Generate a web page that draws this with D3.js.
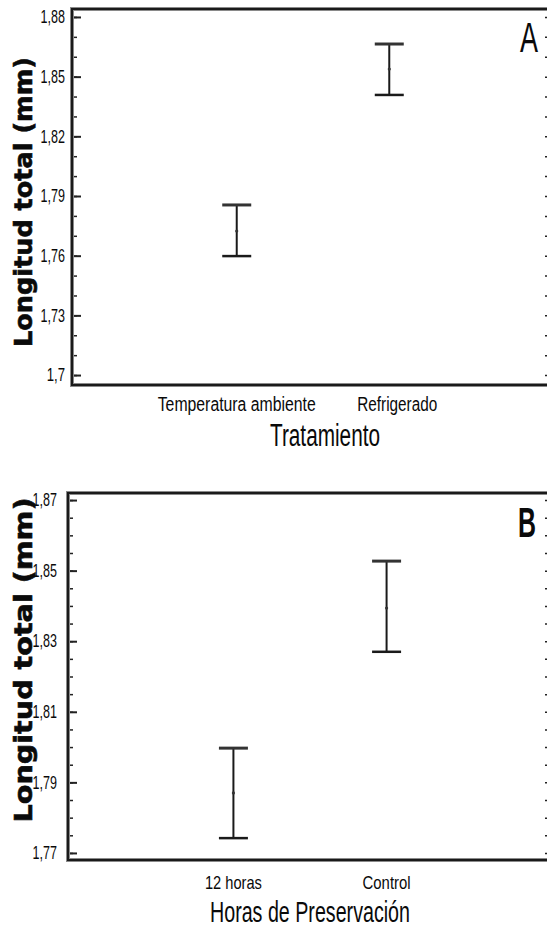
<!DOCTYPE html>
<html>
<head>
<meta charset="utf-8">
<script src="https://cdn.jsdelivr.net/npm/d3@7"></script>
<style>
  body { margin: 0; background: #fff; }
  svg { display: block; }
  .narrow { font-family: "Liberation Sans Narrow", "Arial Narrow", "Liberation Sans", sans-serif; fill: #0a0a0a; }
  .ytitle { font-family: "DejaVu Sans", sans-serif; font-weight: bold; fill: #0a0a0a; stroke: #0a0a0a; stroke-width: 0.6; }
</style>
</head>
<body>
<div id="chart"></div>
<script>
// Panel A: Tratamiento
const groupsA = ["Temperatura ambiente", "Refrigerado"];
const meansA = [1.7724, 1.8538];
const lowerA = [1.7598, 1.8408];
const upperA = [1.7855, 1.8664];
const ticksA = [1.70, 1.73, 1.76, 1.79, 1.82, 1.85, 1.88];

// Panel B: Horas de Preservación
const groupsB = ["12 horas", "Control"];
const meansB = [1.787, 1.8394];
const lowerB = [1.7742, 1.827];
const upperB = [1.7997, 1.8527];
const ticksB = [1.77, 1.79, 1.81, 1.83, 1.85, 1.87];

const width = 547, height = 928;

const svg = d3.select("#chart")
    .append("svg")
    .attr("width", width)
    .attr("height", height);

const locale = d3.formatLocale({ decimal: ",", thousands: ".", grouping: [3], currency: ["", ""] });
const fmt = locale.format("~r");

const drawPanel = (p) => {
    const g = svg.append("g");

    const y = d3.scaleLinear().domain(p.yDomain).range([p.bottom, p.top]);
    const x = d3.scalePoint().domain(p.groups).range([p.left, p.right]).padding(1.08);
    const minorTicks = d3.range(p.ticks[0], p.yDomain[1], p.minor);

    // minor ticks (left, inward)
    g.append("g")
        .attr("transform", `translate(${p.left},0)`)
        .call(d3.axisLeft(y).tickValues(minorTicks).tickSizeInner(-5).tickSizeOuter(0).tickFormat(""))
        .call(a => a.select(".domain").remove())
        .selectAll("line").attr("stroke", "#222").attr("stroke-width", 1.5);

    // major ticks (left, inward) with labels
    g.append("g")
        .attr("transform", `translate(${p.left},0)`)
        .call(d3.axisLeft(y).tickValues(p.ticks).tickSizeInner(-9).tickSizeOuter(0).tickPadding(p.pad).tickFormat(fmt))
        .call(a => a.select(".domain").remove())
        .call(a => a.selectAll("line").attr("stroke", "#222").attr("stroke-width", 2))
        .call(a => a.selectAll("text")
            .attr("class", "narrow")
            .attr("font-size", 18)
            .attr("textLength", d => fmt(d).length * 6.1)
            .attr("lengthAdjust", "spacingAndGlyphs"));

    // right axis ticks (mostly cut off at the picture edge)
    g.append("g")
        .attr("transform", `translate(${p.frameRight},0)`)
        .call(d3.axisRight(y).tickValues(minorTicks).tickSizeInner(-7).tickSizeOuter(0).tickFormat(""))
        .call(a => a.select(".domain").remove())
        .selectAll("line").attr("stroke", "#222").attr("stroke-width", 1.5);

    // frame
    const framePath = `M${p.frameRight},${p.top}H${p.left}V${p.bottom}H${p.frameRight}`;
    g.append("path")
        .attr("d", framePath)
        .attr("fill", "none")
        .attr("stroke", "#8a8a8a")
        .attr("stroke-width", 4);
    g.append("path")
        .attr("d", framePath)
        .attr("fill", "none")
        .attr("stroke", "#1a1a1a")
        .attr("stroke-width", 2);

    // error bars
    const rows = p.groups.map((k, i) => ({ k, m: p.means[i], lo: p.lower[i], hi: p.upper[i] }));
    const bars = g.selectAll(".bar").data(rows).join("g").attr("class", "bar");
    bars.append("line")
        .attr("x1", d => x(d.k)).attr("x2", d => x(d.k))
        .attr("y1", d => y(d.hi)).attr("y2", d => y(d.lo))
        .attr("stroke", "#1a1a1a").attr("stroke-width", 2);
    bars.append("line")
        .attr("x1", d => x(d.k) - 14.5).attr("x2", d => x(d.k) + 14.5)
        .attr("y1", d => y(d.hi)).attr("y2", d => y(d.hi))
        .attr("stroke", "#333").attr("stroke-width", 3);
    bars.append("line")
        .attr("x1", d => x(d.k) - 14.5).attr("x2", d => x(d.k) + 14.5)
        .attr("y1", d => y(d.lo)).attr("y2", d => y(d.lo))
        .attr("stroke", "#1a1a1a").attr("stroke-width", 2.5);
    bars.append("circle")
        .attr("cx", d => x(d.k)).attr("cy", d => y(d.m))
        .attr("r", 1.6).attr("fill", "#333");

    // category labels
    g.selectAll(".cat").data(rows).join("text")
        .attr("class", "narrow cat")
        .attr("x", (d, i) => x(d.k) + p.catShift[i])
        .attr("y", p.catY)
        .attr("text-anchor", "middle")
        .attr("font-size", p.catSize)
        .attr("textLength", (d, i) => p.catLen[i])
        .attr("lengthAdjust", "spacingAndGlyphs")
        .text(d => d.k);

    // x title
    g.append("text")
        .attr("class", "narrow")
        .attr("x", p.titleX).attr("y", p.titleY)
        .attr("text-anchor", "middle")
        .attr("font-size", p.titleSize)
        .attr("textLength", p.titleLen)
        .attr("lengthAdjust", "spacingAndGlyphs")
        .text(p.title);

    // y title
    g.append("text")
        .attr("class", "ytitle")
        .attr("transform", `translate(32,${p.yTitleMid}) rotate(-90)`)
        .attr("text-anchor", "middle")
        .attr("font-size", 25)
        .attr("textLength", p.yTitleLen)
        .attr("lengthAdjust", "spacingAndGlyphs")
        .text("Longitud total (mm)");

    // panel letter
    g.append("text")
        .attr("class", "narrow")
        .attr("x", p.letterX).attr("y", p.letterY)
        .attr("font-size", 42)
        .attr("font-weight", p.letterWeight)
        .attr("textLength", 18)
        .attr("lengthAdjust", "spacingAndGlyphs")
        .text(p.letter);
};

drawPanel({
    groups: groupsA, means: meansA, lower: lowerA, upper: upperA, ticks: ticksA,
    yDomain: [1.695, 1.884], minor: 0.01,
    top: 9, bottom: 385, left: 72, right: 554, frameRight: 552, pad: 7,
    catY: 411, catSize: 20, catShift: [0, 8], catLen: [158, 80],
    title: "Tratamiento", titleSize: 31, titleX: 325, titleY: 446, titleLen: 110,
    yTitleMid: 202, yTitleLen: 290,
    letter: "A", letterX: 520, letterY: 52, letterWeight: "normal"
});

drawPanel({
    groups: groupsB, means: meansB, lower: lowerB, upper: upperB, ticks: ticksB,
    yDomain: [1.768, 1.872], minor: 0.005,
    top: 493, bottom: 860, left: 68, right: 552, frameRight: 552, pad: 11,
    catY: 889, catSize: 19, catShift: [0, 0], catLen: [57, 48],
    title: "Horas de Preservación", titleSize: 30, titleX: 310, titleY: 922, titleLen: 200,
    yTitleMid: 660, yTitleLen: 325,
    letter: "B", letterX: 518, letterY: 537, letterWeight: "bold"
});
</script>
</body>
</html>
